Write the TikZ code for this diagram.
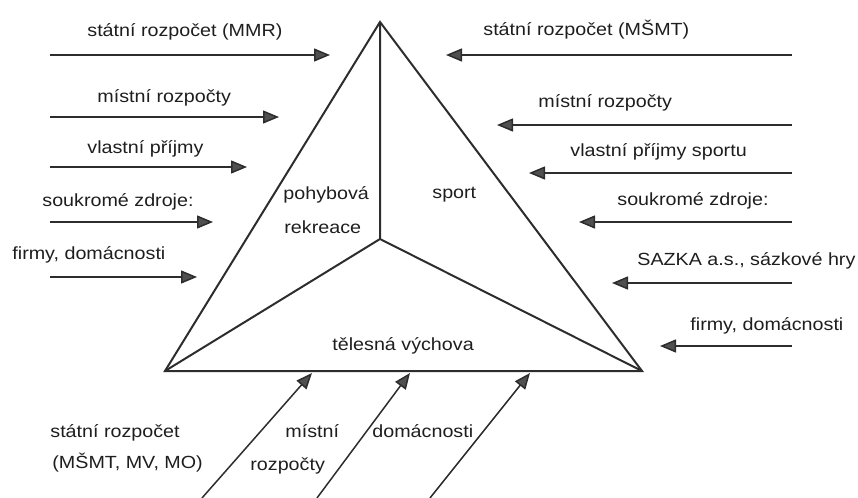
\documentclass[tikz,border=0pt]{standalone}
\usepackage{fontspec}
\setmainfont{Liberation Sans}[FakeStretch=1.12]
\usepackage{xcolor}
\definecolor{line-dark}{RGB}{45,45,45}
\definecolor{head-gray}{RGB}{80,80,80}
\definecolor{text-dark}{RGB}{30,30,30}
\usepackage{tikz}
\usetikzlibrary{arrows.meta}

\begin{document}
\begin{tikzpicture}[x=0.5pt, y=-0.5pt,
    edge line/.style={draw=line-dark, line width=1pt},
    flow arrow/.style={draw=line-dark, line width=0.75pt, -{Triangle[length=8pt, width=6.5pt, fill=head-gray]}},
    flow label/.style={anchor=base west, inner sep=0pt, text=text-dark, font=\fontsize{8.8}{12}\selectfont}
]
\useasboundingbox (0,0) rectangle (858,498);

% Triangle corners and the inner junction
\coordinate (top) at (380,22);
\coordinate (left) at (165,371);
\coordinate (right) at (642,371);
\coordinate (mid) at (380,239);

\draw[edge line] (top) -- (left) -- (right) -- cycle;
\draw[edge line] (mid) -- (top) (mid) -- (left) (mid) -- (right);

% Labels of the three areas
\node[flow label] (pohyb) at (283,199) {pohybová};
\node[flow label] (rekreace) at (284,233) {rekreace};
\node[flow label] (sport) at (432,198) {sport};
\node[flow label] (telesna) at (332,350) {tělesná výchova};

% Sources on the left, flowing to the right
\foreach \name/\ya/\xb in {mmr/55/330, lmistni/117/279, lvlastni/167/247, lsoukrome/222/213, lfirmy/277/197} {
  \coordinate (\name-a) at (50,\ya);
  \coordinate (\name-b) at (\xb,\ya);
  \draw[flow arrow] (\name-a) -- (\name-b);
}
\node[flow label] (mmr) at (87,37) {státní rozpočet (MMR)};
\node[flow label] (lmistni) at (97,102) {místní rozpočty};
\node[flow label] (lvlastni) at (87,153) {vlastní příjmy};
\node[flow label] (lsoukrome) at (42,206) {soukromé zdroje:};
\node[flow label] (lfirmy) at (12,259) {firmy, domácnosti};

% Sources on the right, flowing to the left
\foreach \name/\ya/\xb in {msmt/55/446, rmistni/125/497, rvlastni/173/529, rsoukrome/222/579, sazka/283/612, rfirmy/346/660} {
  \coordinate (\name-a) at (792,\ya);
  \coordinate (\name-b) at (\xb,\ya);
  \draw[flow arrow] (\name-a) -- (\name-b);
}
\node[flow label] (msmt) at (483,35) {státní rozpočet (MŠMT)};
\node[flow label] (rmistni) at (538,107) {místní rozpočty};
\node[flow label] (rvlastni) at (570,156) {vlastní příjmy sportu};
\node[flow label] (rsoukrome) at (617,205) {soukromé zdroje:};
\node[flow label] (sazka) at (637,265) {SAZKA a.s., sázkové hry};
\node[flow label] (rfirmy) at (690,330) {firmy, domácnosti};

% Sources below, flowing up into the base
\coordinate (bstat-a) at (202,498);
\coordinate (bstat-b) at (312,373);
\coordinate (bmist-a) at (317,498);
\coordinate (bmist-b) at (410,373);
\coordinate (bdom-a) at (430,498);
\coordinate (bdom-b) at (530,373);
\draw[flow arrow] (bstat-a) -- (bstat-b);
\draw[flow arrow] (bmist-a) -- (bmist-b);
\draw[flow arrow] (bdom-a) -- (bdom-b);

\node[flow label] (bstat1) at (50,437) {státní rozpočet};
\node[flow label] (bstat2) at (52,468) {(MŠMT, MV, MO)};
\node[flow label] (bmist1) at (285,437) {místní};
\node[flow label] (bmist2) at (250,470) {rozpočty};
\node[flow label] (bdom) at (372,437) {domácnosti};

\end{tikzpicture}
\end{document}
